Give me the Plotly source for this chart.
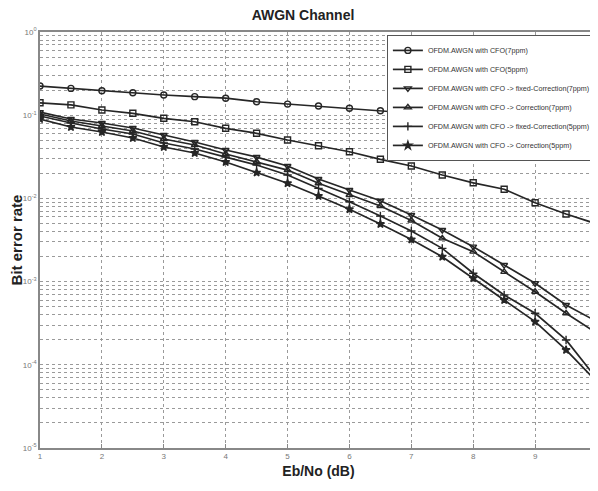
import plotly.graph_objects as go

ebno = [1, 1.5, 2, 2.5, 3, 3.5, 4, 4.5, 5, 5.5, 6, 6.5, 7, 7.5, 8, 8.5, 9, 9.5, 10]

ber_cfo7 = [0.224, 0.210, 0.197, 0.186, 0.175, 0.167, 0.160, 0.145, 0.136, 0.129,
            0.121, 0.113, 0.106, 0.099, 0.0925, 0.0876, 0.080, 0.074, 0.0696]
ber_cfo5 = [0.141, 0.133, 0.1155, 0.1054, 0.0918, 0.0835, 0.0696, 0.0606, 0.0503, 0.043,
            0.0364, 0.0295, 0.0245, 0.0191, 0.0154, 0.0129, 0.00888, 0.0065, 0.00492]
ber_fix7 = [0.109, 0.090, 0.0806, 0.0702, 0.0578, 0.0476, 0.0382, 0.0314, 0.0245, 0.0171,
            0.0126, 0.00938, 0.00632, 0.00417, 0.00263, 0.00158, 0.000954, 0.000523, 0.00033]
ber_cor7 = [0.1034, 0.0852, 0.0742, 0.0646, 0.0518, 0.0438, 0.0342, 0.0276, 0.0219, 0.0152,
            0.0110, 0.0081, 0.00543, 0.00331, 0.00229, 0.00131, 0.000756, 0.000416, 0.000239]
ber_fix5 = [0.0978, 0.0806, 0.0683, 0.0594, 0.0463, 0.0392, 0.0314, 0.0252, 0.0191, 0.0132,
            0.00913, 0.00614, 0.00406, 0.00251, 0.00126, 0.00069, 0.000416, 0.000199, 0.0000675]
ber_cor5 = [0.090, 0.0721, 0.0628, 0.0532, 0.0415, 0.0351, 0.0274, 0.0204, 0.0152, 0.0107,
            0.0074, 0.00492, 0.0032, 0.00199, 0.0011, 0.0006, 0.00033, 0.000151, 0.0000621]

series_names = [
    "OFDM.AWGN with CFO(7ppm)",
    "OFDM.AWGN with CFO(5ppm)",
    "OFDM.AWGN with CFO -&gt; fixed-Correction(7ppm)",
    "OFDM.AWGN with CFO -&gt; Correction(7ppm)",
    "OFDM.AWGN with CFO -&gt; fixed-Correction(5ppm)",
    "OFDM.AWGN with CFO -&gt; Correction(5ppm)",
]
series_values = [ber_cfo7, ber_cfo5, ber_fix7, ber_cor7, ber_fix5, ber_cor5]
markers = ["circle-open", "square-open", "triangle-down-open", "triangle-up-open",
           "cross-thin-open", "star"]

x_ticks = [1, 2, 3, 4, 5, 6, 7, 8, 9, 10]
x_ticklabels = ["1", "2", "3", "4", "5", "6", "7", "8", "9", "10"]
y_ticks = [1e-5, 1e-4, 1e-3, 1e-2, 1e-1, 1]
y_ticklabels = ["10<sup>-5</sup>", "10<sup>-4</sup>", "10<sup>-3</sup>",
                "10<sup>-2</sup>", "10<sup>-1</sup>", "10<sup>0</sup>"]
y_minor = [k * d for d in y_ticks[:-1] for k in range(2, 10)]

fig = go.Figure()
line_col = "#262626"
for name, vals, m in zip(series_names, series_values, markers):
    fig.add_trace(go.Scatter(
        x=ebno, y=vals, name=name, mode="lines+markers",
        line=dict(color=line_col, width=1.7),
        marker=dict(symbol=m, size=6, color=line_col,
                    line=dict(color=line_col, width=1.4)),
    ))

grid_col = "#9a9a9a"
# the page body adds an 8px offset, so the figure is 8px smaller each way
fig.update_layout(
    width=590, height=483,
    margin=dict(l=32, r=1, t=24, b=43, autoexpand=False),
    paper_bgcolor="#ffffff", plot_bgcolor="white",
    font=dict(family="Liberation Sans, Arial, sans-serif", color="#222"),
    title=dict(text="<b>AWGN Channel</b>", x=0.5, xanchor="center",
               y=0.985, yanchor="middle",
               font=dict(size=14, color="#222")),
    showlegend=True,
    legend=dict(x=0.998, y=0.993, xanchor="right", yanchor="top",
                bgcolor="white", bordercolor="#555", borderwidth=1,
                font=dict(size=7.2, color="#333"), itemwidth=30,
                tracegroupgap=0),
    xaxis=dict(range=[1, 10], tickvals=x_ticks, ticktext=x_ticklabels, automargin=False,
               showgrid=True, gridcolor=grid_col, griddash="dot", gridwidth=1,
               showline=True, linecolor="#888", linewidth=1.5, mirror=True,
               ticks="inside", ticklen=4, tickcolor="#888",
               tickfont=dict(size=8, color="#777"),
               title=dict(text="<b>Eb/No (dB)</b>", font=dict(size=14, color="#222"), standoff=6),
               zeroline=False),
    yaxis=dict(type="log", range=[-5, 0], tickvals=y_ticks, ticktext=y_ticklabels,
               automargin=False,
               showgrid=True, gridcolor=grid_col, griddash="dot", gridwidth=1,
               minor=dict(tickvals=y_minor, showgrid=True, gridcolor=grid_col,
                          griddash="dot", gridwidth=1, ticks=""),
               showline=True, linecolor="#888", linewidth=1.5, mirror=True,
               ticks="", tickfont=dict(size=8, color="#777"),
               title=dict(text="<b>Bit error rate</b>", font=dict(size=15, color="#222"), standoff=4),
               zeroline=False),
)

fig.write_html("out.html")
